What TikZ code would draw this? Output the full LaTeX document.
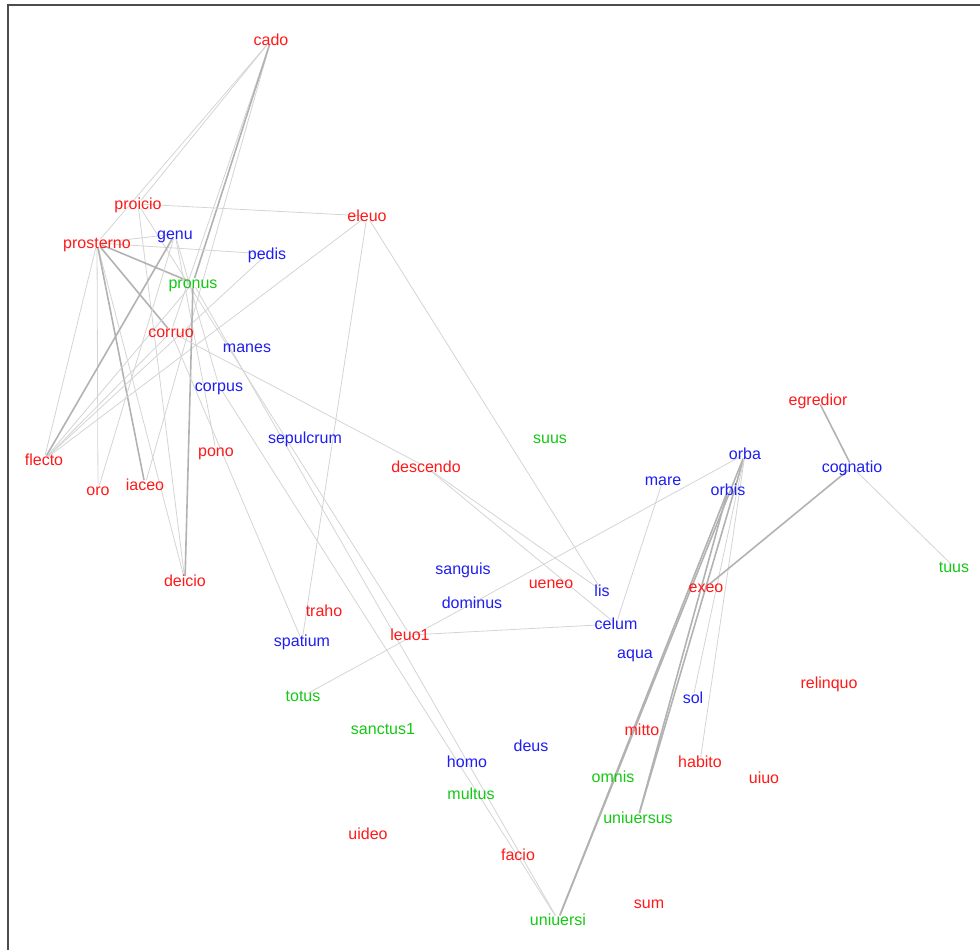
\documentclass[tikz,border=0pt]{standalone}
\usepackage{fontspec}
\setmainfont{Liberation Sans}
\usetikzlibrary{backgrounds}
\definecolor{vred}{RGB}{255,25,25}
\definecolor{vblue}{RGB}{30,30,240}
\definecolor{vgreen}{RGB}{20,200,20}
\definecolor{lnkgray}{RGB}{212,212,212}
\definecolor{lnkdark}{RGB}{178,178,178}

\begin{document}
\begin{tikzpicture}[x=1pt,y=-1pt,
  word/.style={font=\fontsize{16}{18}\selectfont,inner sep=0pt,text height=11.5pt,text depth=0pt},
  verb/.style={word,text=vred},
  noun/.style={word,text=vblue},
  adj/.style={word,text=vgreen},
  lnk/.style={draw=lnkgray,line width=0.8pt,shorten <=5pt,shorten >=5pt},
  strong/.style={lnk,draw=lnkdark,line width=1.6pt}
]
\useasboundingbox (0,0) rectangle (980,950);
\clip (0,0) rectangle (980,950);
% plot frame
\draw[line width=1.5pt,black!70] (8,970) |- (990,5);

% verbs
\node[verb] (cado)      at (271,40)  {cado};
\node[verb] (proicio)   at (138,204) {proicio};
\node[verb] (eleuo)     at (367,216) {eleuo};
\node[verb] (prosterno) at (97,243)  {prosterno};
\node[verb] (corruo)    at (171,332) {corruo};
\node[verb] (flecto)    at (44,460)  {flecto};
\node[verb] (oro)       at (98,490)  {oro};
\node[verb] (iaceo)     at (145,485) {iaceo};
\node[verb] (pono)      at (216,451) {pono};
\node[verb] (deicio)    at (185,581) {deicio};
\node[verb] (descendo)  at (426,467) {descendo};
\node[verb] (traho)     at (324,611) {traho};
\node[verb] (leuo1)     at (410,635) {leuo1};
\node[verb] (ueneo)     at (551,583) {ueneo};
\node[verb] (exeo)      at (706,587) {exeo};
\node[verb] (egredior)  at (818,400) {egredior};
\node[verb] (relinquo)  at (829,683) {relinquo};
\node[verb] (mitto)     at (642,730) {mitto};
\node[verb] (habito)    at (700,762) {habito};
\node[verb] (uiuo)      at (764,778) {uiuo};
\node[verb] (uideo)     at (368,834) {uideo};
\node[verb] (facio)     at (518,855) {facio};
\node[verb] (sum)       at (649,903) {sum};

% nouns
\node[noun] (genu)      at (175,234) {genu};
\node[noun] (pedis)     at (267,254) {pedis};
\node[noun] (manes)     at (247,347) {manes};
\node[noun] (corpus)    at (219,386) {corpus};
\node[noun] (sepulcrum) at (305,438) {sepulcrum};
\node[noun] (mare)      at (663,480) {mare};
\node[noun] (orba)      at (745,454) {orba};
\node[noun] (orbis)     at (728,490) {orbis};
\node[noun] (cognatio)  at (852,467) {cognatio};
\node[noun] (sanguis)   at (463,569) {sanguis};
\node[noun] (lis)       at (602,591) {lis};
\node[noun] (dominus)   at (472,603) {dominus};
\node[noun] (celum)     at (616,624) {celum};
\node[noun] (spatium)   at (302,641) {spatium};
\node[noun] (aqua)      at (635,653) {aqua};
\node[noun] (sol)       at (693,698) {sol};
\node[noun] (deus)      at (531,746) {deus};
\node[noun] (homo)      at (467,762) {homo};

% adjectives
\node[adj] (pronus)     at (193,283) {pronus};
\node[adj] (suus)       at (550,438) {suus};
\node[adj] (tuus)       at (954,567) {tuus};
\node[adj] (totus)      at (303,696) {totus};
\node[adj] (sanctus1)   at (383,729) {sanctus1};
\node[adj] (omnis)      at (613,777) {omnis};
\node[adj] (multus)     at (471,794) {multus};
\node[adj] (uniuersus)  at (638,818) {uniuersus};
\node[adj] (uniuersi)   at (558,920) {uniuersi};

\begin{scope}[on background layer]
% left cluster
\draw[lnk] (cado.center) -- (proicio.center);
\draw[lnk] (cado.center) -- (prosterno.center);
\draw[lnk] (cado.center) -- (corruo.center);
\draw[lnk] (cado.center) -- (iaceo.center);
\draw[strong] (cado.center) -- (pronus.center);
\draw[lnk] (proicio.center) -- (eleuo.center);
\draw[lnk] (proicio.center) -- (deicio.center);
\draw[lnk] (proicio.center) -- (leuo1.center);
\draw[lnk] (prosterno.center) -- (genu.center);
\draw[lnk] (prosterno.center) -- (pedis.center);
\draw[lnk] (prosterno.center) -- (oro.center);
\draw[lnk] (prosterno.center) -- (flecto.center);
\draw[lnk] (prosterno.center) -- (deicio.center);
\draw[strong] (prosterno.center) -- (pronus.center);
\draw[strong] (prosterno.center) -- (corruo.center);
\draw[strong] (prosterno.center) -- (iaceo.center);
\draw[strong] (genu.center) -- (flecto.center);
\draw[lnk] (genu.center) -- (oro.center);
\draw[lnk] (genu.center) -- (corpus.center);
\draw[lnk] (genu.center) -- (pono.center);
\draw[lnk] (flecto.center) -- (pronus.center);
\draw[lnk] (flecto.center) -- (corruo.center);
\draw[lnk] (flecto.center) -- (pedis.center);
\draw[lnk] (flecto.center) -- (eleuo.center);
\draw[strong] (pronus.center) -- (deicio.center);
\draw[lnk] (pronus.center) -- (uniuersi.center);
\draw[lnk] (corruo.center) -- (descendo.center);
\draw[lnk] (corruo.center) -- (spatium.center);
\draw[lnk] (corpus.center) -- (uniuersi.center);
\draw[lnk] (eleuo.center) -- (lis.center);
\draw[lnk] (eleuo.center) -- (spatium.center);
% middle
\draw[lnk] (descendo.center) -- (lis.center);
\draw[lnk] (descendo.center) -- (celum.center);
\draw[lnk] (leuo1.center) -- (celum.center);
\draw[lnk] (totus.center) -- (orba.center);
\draw[lnk] (mare.center) -- (celum.center);
% right cluster
\draw[strong] (orba.center) -- (uniuersi.center);
\draw[strong] (orbis.center) -- (uniuersi.center);
\draw[strong] (orba.center) -- (uniuersus.center);
\draw[strong] (orbis.center) -- (uniuersus.center);
\draw[lnk] (orba.center) -- (sol.center);
\draw[lnk] (orba.center) -- (habito.center);
\draw[strong] (egredior.center) -- (cognatio.center);
\draw[strong] (cognatio.center) -- (exeo.center);
\draw[lnk] (cognatio.center) -- (tuus.center);
\end{scope}
\end{tikzpicture}
\end{document}
